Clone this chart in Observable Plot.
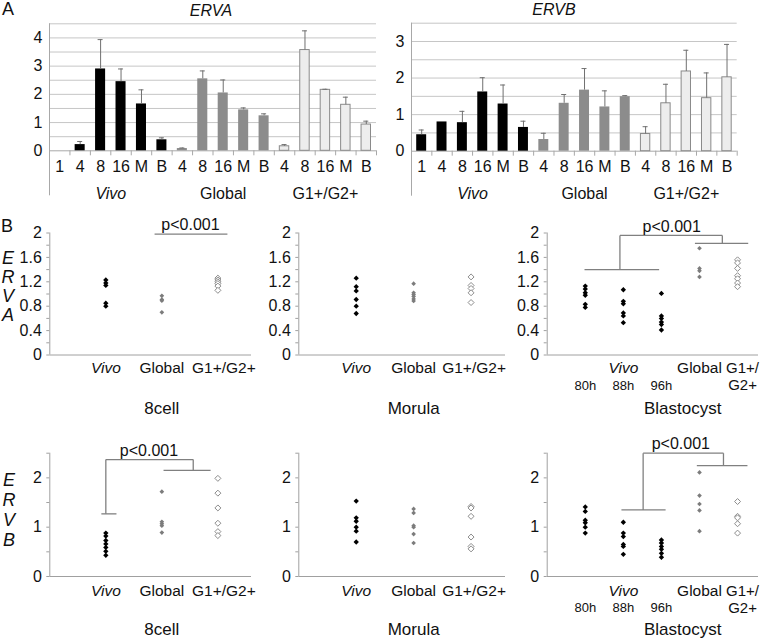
<!DOCTYPE html>
<html><head><meta charset="utf-8">
<script src="https://cdn.jsdelivr.net/npm/d3@7"></script>
<script src="https://cdn.jsdelivr.net/npm/@observablehq/plot@0.6"></script>
<style>
body{margin:0;background:#fff;}
#root{position:relative;width:774px;height:639px;font-family:"Liberation Sans",Arial,sans-serif;color:#111;overflow:hidden;background:#fff}
#root svg{position:absolute;overflow:visible}
.lbl{position:absolute;line-height:1;white-space:nowrap;transform:translate(-50%,-50%)}
</style></head><body><div id="root"></div>
<script>
// ---------- Panel A data ----------
const stageLabels = ["1","4","8","16","M","B","4","8","16","M","B","4","8","16","M","B"];
const stageGroup  = [0,0,0,0,0,0,1,1,1,1,1,2,2,2,2,2];
const groupNames  = ["Vivo","Global","G1+/G2+"];
const ervaMean = [0,0.22,2.90,2.45,1.66,0.39, 0.08,2.55,2.05,1.45,1.24, 0.16,3.57,2.16,1.63,0.93];
const ervaErr  = [0,0.11,1.04,0.45,0.50,0.07, 0.02,0.28,0.46,0.07,0.07, 0.06,0.68,0.02,0.27,0.12];
const ervbMean = [0.45,0.80,0.78,1.62,1.29,0.65, 0.32,1.31,1.67,1.21,1.49, 0.47,1.31,2.18,1.45,2.02];
const ervbErr  = [0.13,0,0.31,0.39,0.52,0.17, 0.17,0.24,0.59,0.44,0.03, 0.20,0.52,0.58,0.69,0.90];

// ---------- Panel B data ----------
const cellGroups = ["Vivo","Global","G1+/G2+"];
const cellKinds  = ["vivo","global","g12"];
const blastTopLabels = ["", "Vivo", "", "Global", "G1+/"];
const blastSubLabels = ["80h","88h","96h","","G2+"];
const blastKinds = ["vivo","vivo","vivo","global","g12"];

const ervaCell8  = [[1.23,1.18,1.14,0.85,0.80],[0.97,0.91,0.89,0.70],[1.26,1.23,1.20,1.17,1.13,1.06]];
const ervaMorula = [[1.26,1.12,1.05,0.91,0.80,0.68],[1.17,1.02,0.99,0.96,0.92,0.885],[1.28,1.14,1.09,1.02,0.86]];
const ervaBlast  = [[1.13,1.08,1.02,0.98,0.83,0.78],[1.07,0.88,0.84,0.69,0.64,0.53],[1.01,0.64,0.60,0.54,0.50,0.41],[1.75,1.42,1.38,1.28],[1.56,1.51,1.42,1.30,1.25,1.18,1.12]];
const ervbCell8  = [[0.88,0.82,0.73,0.66,0.59,0.51,0.43],[1.72,1.11,1.07,1.03,0.89],[1.99,1.69,1.39,1.08,0.91,0.83]];
const ervbMorula = [[1.53,1.19,1.12,1.00,0.92,0.70],[1.37,1.29,1.03,1.00,0.86,0.68],[1.42,1.39,1.22,0.80,0.61,0.56]];
const ervbBlast  = [[1.41,1.32,1.14,1.09,1.00,0.88],[1.10,0.88,0.81,0.65,0.61,0.45],[0.74,0.68,0.61,0.55,0.47,0.39],[2.11,1.64,1.47,1.34,0.92],[1.52,1.22,1.19,1.07,0.88]];

// significance brackets: segments [x1,y1,x2,y2] in data units
const ervaCell8Bracket = [[1.87,1.98,3.17,1.98]];
const ervaBlastBracket = [[0.98,1.40,2.94,1.40],[1.91,1.40,1.91,1.96],[1.91,1.96,4.60,1.96],[4.60,1.96,4.60,1.83],[3.88,1.83,5.28,1.83]];
const ervbCell8Bracket = [[0.92,1.27,1.19,1.27],[1.00,1.27,1.00,2.37],[1.00,2.37,2.56,2.37],[2.56,2.37,2.56,2.15],[2.03,2.15,2.87,2.15]];
const ervbBlastBracket = [[1.95,1.35,3.11,1.35],[2.52,1.35,2.52,2.50],[2.52,2.50,4.63,2.50],[4.63,2.50,4.63,2.25],[3.93,2.25,5.26,2.25]];
const pLabel = "p<0.001";

const root = document.getElementById("root");
const FONT = '"Liberation Sans", Arial, sans-serif';
const baseStyle = {fontFamily: FONT, fontSize: "16px", background: "transparent", color: "#111", overflow: "visible"};

function place(svg, left, top) {
  svg.style.left = left + "px";
  svg.style.top = top + "px";
  root.appendChild(svg);
}

function barPanel(cfg) {
  const data = cfg.mean.map((m, i) => ({i, m, e: cfg.err[i], g: stageGroup[i], s: stageLabels[i]}));
  const groups = groupNames.map((name, g) => {
    const idx = data.filter(d => d.g === g).map(d => d.i);
    return {name, c: (d3.min(idx) + d3.max(idx) + 1) / 2};
  });
  const withErr = data.filter(d => d.e > 0);
  const svg = Plot.plot({
    width: cfg.w, height: cfg.h,
    marginLeft: cfg.ml, marginRight: cfg.mr, marginTop: cfg.mt, marginBottom: cfg.mb,
    x: {domain: [0, 16], axis: null},
    y: {domain: [0, cfg.yMax], axis: null},
    style: baseStyle,
    marks: [
      Plot.ruleY(d3.range(0.5, cfg.yMax + 1e-9, 0.5), {stroke: "#c6c6c6"}),
      Plot.ruleY([0], {stroke: "#a8a8a8"}),
      Plot.ruleX([0], {y1: cfg.yMax, y2: 0, insetBottom: -45, stroke: "#a8a8a8"}),
      Plot.ruleX(d3.range(1, 17), {y1: 0, y2: 0, insetBottom: -5, stroke: "#a8a8a8"}),
      Plot.axisY({ticks: d3.range(0, Math.floor(cfg.yMax) + 1), tickSize: 0, tickPadding: 7, fontSize: 16, fill: "#111", label: null, tickFormat: d => String(d)}),
      Plot.rect(data.filter(d => d.g === 0 && d.m > 0), {x1: "i", x2: d => d.i + 1, y1: 0, y2: "m", insetLeft: 5.2, insetRight: 5.2, fill: "#000"}),
      Plot.rect(data.filter(d => d.g === 1), {x1: "i", x2: d => d.i + 1, y1: 0, y2: "m", insetLeft: 5.2, insetRight: 5.2, fill: "#8c8c8c"}),
      Plot.rect(data.filter(d => d.g === 2), {x1: "i", x2: d => d.i + 1, y1: 0, y2: "m", insetLeft: 5.5, insetRight: 5.5, fill: "#ededed", stroke: "#8a8a8a"}),
      Plot.ruleX(withErr, {x: d => d.i + 0.5, y1: "m", y2: d => d.m + d.e, stroke: "#707070"}),
      Plot.ruleY(withErr, {y: d => d.m + d.e, x1: d => d.i + 0.5, x2: d => d.i + 0.5, insetLeft: -2.5, insetRight: -2.5, stroke: "#707070"}),
      Plot.text(data, {x: d => d.i + 0.5, y: () => 0, text: "s", dy: 16, fontSize: 16, fill: "#111"}),
      Plot.text(groups.filter(d => d.name === "Vivo"), {x: "c", y: () => 0, text: "name", dy: 43, fontSize: 16, fontStyle: "italic", fill: "#111"}),
      Plot.text(groups.filter(d => d.name !== "Vivo"), {x: "c", y: () => 0, text: "name", dy: 43, fontSize: 16, fill: "#111"}),
      Plot.text([cfg.title], {x: () => cfg.titleX, y: () => cfg.yMax, text: d => d, dy: -13, fontSize: 16, fontStyle: "italic", fill: "#111"})
    ]
  });
  place(svg, cfg.left, cfg.top);
}

const dotStyle = {
  vivo:   {fill: "#000", r: 2.4, symbol: "diamond2"},
  global: {fill: "#7c7c7c", r: 2.1, symbol: "diamond2"},
  g12:    {fill: "#fff", stroke: "#8c8c8c", strokeWidth: 1, r: 2.7, symbol: "diamond2"}
};

function dotPanel(cfg) {
  const pts = cfg.series.flatMap((vals, c) => vals.map(v => ({c: c + 1, v, k: cfg.kinds[c]})));
  const isMajor = d => Math.abs(d / cfg.major - Math.round(d / cfg.major)) < 1e-6;
  const marks = [
    Plot.ruleY([0], {stroke: "#a0a0a0"}),
    Plot.ruleX([0], {y1: 0, y2: cfg.yMax, stroke: "#a0a0a0"}),
    Plot.axisY({ticks: d3.range(0, cfg.yMax + 1e-9, cfg.minor), tickSize: 3, tickPadding: 5, stroke: "#a0a0a0", fill: "#111", fontSize: 16, label: null,
      tickFormat: d => isMajor(d) ? String(+d.toFixed(1)) : ""}),
    ...["vivo", "global", "g12"].map(k => Plot.dot(pts.filter(p => p.k === k), {x: "c", y: "v", ...dotStyle[k]})),
    Plot.text([cfg.title], {x: () => cfg.titleX, y: () => 0, text: d => d, dy: cfg.titleDy, fontSize: 17, fill: "#111"})
  ];
  if (cfg.bracket) {
    marks.push(Plot.link(cfg.bracket, {x1: d => d[0], y1: d => d[1], x2: d => d[2], y2: d => d[3], stroke: "#808080", strokeWidth: 1.3}));
    marks.push(Plot.text([pLabel], {x: () => cfg.pX, y: () => cfg.pY, text: d => d, dy: -9, fontSize: 16, fill: "#111"}));
  }
  const top = cfg.top.map((t, i) => ({t, c: i + 1})).filter(d => d.t);
  const sub = (cfg.sub || []).map((t, i) => ({t, c: i + 1})).filter(d => d.t);
  const n = cfg.top.length;
  marks.push(Plot.text(top.filter(d => d.t === "Vivo"), {x: "c", y: () => 0, text: "t", dy: cfg.rowDy[0], fontSize: 15.5, fontStyle: "italic", fill: "#111"}));
  marks.push(Plot.text(top.filter(d => d.t !== "Vivo" && d.c < n), {x: "c", y: () => 0, text: "t", dy: cfg.rowDy[0], fontSize: 15.5, fill: "#111"}));
  marks.push(Plot.text(top.filter(d => d.t !== "Vivo" && d.c === n), {x: "c", y: () => 0, text: "t", dy: cfg.rowDy[0], dx: cfg.lastDx, fontSize: cfg.sub ? 15 : 15.5, fill: "#111"}));
  marks.push(Plot.text(sub.filter(d => d.c < n), {x: "c", y: () => 0, text: "t", dy: cfg.rowDy[1], fontSize: 13, fill: "#111"}));
  marks.push(Plot.text(sub.filter(d => d.c === n), {x: "c", y: () => 0, text: "t", dy: cfg.rowDy[1], dx: cfg.lastDx, fontSize: 15, fill: "#111"}));
  const svg = Plot.plot({
    width: cfg.w, height: cfg.h,
    marginLeft: cfg.ml, marginRight: cfg.mr, marginTop: cfg.mt, marginBottom: cfg.mb,
    x: {domain: [0, cfg.xMax], axis: null},
    y: {domain: [0, cfg.yMax], axis: null},
    style: baseStyle,
    marks
  });
  place(svg, cfg.left, cfg.topPx);
}

// ---------- Panel A ----------
barPanel({left: 0, top: 0, w: 390, h: 200, ml: 49, mr: 14, mt: 23.3, mb: 49.7, yMax: 4.5, mean: ervaMean, err: ervaErr, title: "ERVA", titleX: 7.9});
barPanel({left: 385, top: 0, w: 389, h: 200, ml: 26, mr: 37.3, mt: 22.7, mb: 49.3, yMax: 3.5, mean: ervbMean, err: ervbErr, title: "ERVB", titleX: 7.0});

// ---------- Panel B row 1 (ERVA) ----------
const row1 = {topPx: 200, h: 215, mt: 32.5, mb: 60.5, yMax: 2, minor: 0.2, major: 0.4, rowDy: [13.5, 30.5], titleDy: 53.5};
dotPanel({...row1, left: 0, w: 255, ml: 49.3, mr: 4, xMax: 3.6, series: ervaCell8, kinds: cellKinds, top: cellGroups, lastDx: 6,
  bracket: ervaCell8Bracket, pX: 2.51, pY: 1.98, title: "8cell", titleX: 2});
dotPanel({...row1, left: 255, w: 255, ml: 43.3, mr: 5, xMax: 3.6, series: ervaMorula, kinds: cellKinds, top: cellGroups, lastDx: 3,
  title: "Morula", titleX: 2});
dotPanel({...row1, left: 510, w: 264, ml: 36.7, mr: 16, xMax: 5.55, series: ervaBlast, kinds: blastKinds, top: blastTopLabels, sub: blastSubLabels, lastDx: 5,
  bracket: ervaBlastBracket, pX: 3.27, pY: 1.96, title: "Blastocyst", titleX: 3.56});

// ---------- Panel B row 2 (ERVB) ----------
const row2 = {topPx: 415, h: 224, mt: 37.7, mb: 63, yMax: 2.5, minor: 0.5, major: 1, rowDy: [14.2, 31.2], titleDy: 53};
dotPanel({...row2, left: 0, w: 255, ml: 49.3, mr: 4, xMax: 3.6, series: ervbCell8, kinds: cellKinds, top: cellGroups, lastDx: 6,
  bracket: ervbCell8Bracket, pX: 1.77, pY: 2.37, title: "8cell", titleX: 2});
dotPanel({...row2, left: 255, w: 255, ml: 43.3, mr: 5, xMax: 3.6, series: ervbMorula, kinds: cellKinds, top: cellGroups, lastDx: 3,
  title: "Morula", titleX: 2});
dotPanel({...row2, left: 510, w: 264, ml: 36.7, mr: 16, xMax: 5.55, series: ervbBlast, kinds: blastKinds, top: blastTopLabels, sub: blastSubLabels, lastDx: 5,
  bracket: ervbBlastBracket, pX: 3.51, pY: 2.5, title: "Blastocyst", titleX: 3.56});

// ---------- Panel letters and stacked axis titles ----------
function label(text, x, y, size, italic) {
  const d = document.createElement("div");
  d.className = "lbl";
  d.textContent = text;
  d.style.left = x + "px";
  d.style.top = y + "px";
  d.style.fontSize = size + "px";
  if (italic) d.style.fontStyle = "italic";
  root.appendChild(d);
}
label("A", 8, 9, 18, false);
label("B", 7, 226, 18, false);
["E","R","V","A"].forEach((t, i) => label(t, 8, 258 + i * 19, 18, true));
["E","R","V","B"].forEach((t, i) => label(t, 9, 480 + i * 20, 18, true));
</script>
</body></html>
